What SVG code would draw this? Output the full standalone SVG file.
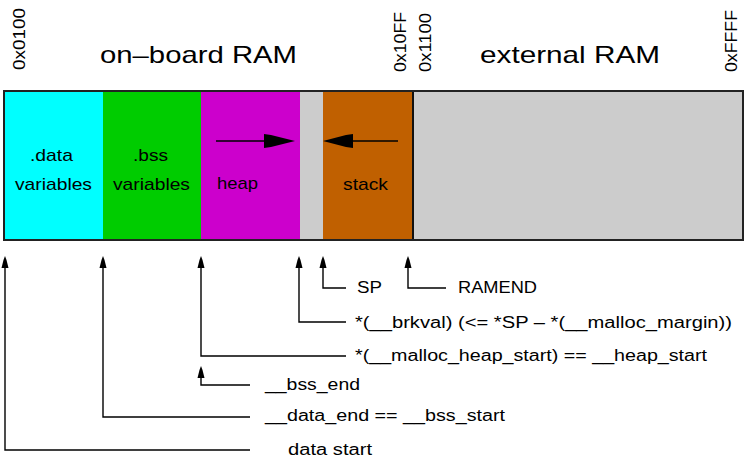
<svg xmlns="http://www.w3.org/2000/svg" width="756" height="458" viewBox="0 0 756 458">
<style>
text{font-family:"Liberation Sans",Arial,sans-serif;fill:#000}
.t{font-size:24px}
.a{font-size:16.5px}
.i{font-size:17px}
.l{font-size:16px}
.c{fill:none;stroke:#000;stroke-width:1.4}
.h{fill:#000}
</style>
<defs>
<path id="ah" d="M0,0 L-1.5,4 L-3.5,12 L3.5,12 L1.5,4 Z"/>
</defs>
<rect width="756" height="458" fill="#fff"/>
<g id="addresses">
<text class="a" transform="translate(25,70) rotate(-90)" textLength="62" lengthAdjust="spacingAndGlyphs">0x0100</text>
<text class="a" transform="translate(406,72) rotate(-90)" textLength="60" lengthAdjust="spacingAndGlyphs">0x10FF</text>
<text class="a" transform="translate(431,72) rotate(-90)" textLength="59" lengthAdjust="spacingAndGlyphs">0x1100</text>
<text class="a" transform="translate(737,72) rotate(-90)" textLength="62" lengthAdjust="spacingAndGlyphs">0xFFFF</text>
</g>
<g id="titles">
<text class="t" x="100" y="63" textLength="197" lengthAdjust="spacingAndGlyphs">on–board RAM</text>
<text class="t" x="480" y="63" textLength="180" lengthAdjust="spacingAndGlyphs">external RAM</text>
</g>
<g id="memory">
<rect x="4" y="91" width="739" height="149" fill="#ccc"/>
<rect id="data" x="4" y="91" width="99" height="149" fill="#00ffff"/>
<rect id="bss" x="103" y="91" width="98" height="149" fill="#00cc00"/>
<rect id="heap" x="201" y="91" width="99" height="149" fill="#cc00cc"/>
<rect id="stack" x="323" y="91" width="90" height="149" fill="#c06000"/>
<line x1="413" y1="91" x2="413" y2="240" stroke="#111" stroke-width="2"/>
<rect x="4" y="91" width="739" height="149" fill="none" stroke="#222" stroke-width="2"/>
<text class="i" x="30" y="161" textLength="43" lengthAdjust="spacingAndGlyphs">.data</text>
<text class="i" x="15" y="190" textLength="77" lengthAdjust="spacingAndGlyphs">variables</text>
<text class="i" x="133" y="161" textLength="35" lengthAdjust="spacingAndGlyphs">.bss</text>
<text class="i" x="113" y="190" textLength="77" lengthAdjust="spacingAndGlyphs">variables</text>
<text class="i" x="217" y="189" textLength="41" lengthAdjust="spacingAndGlyphs">heap</text>
<text class="i" x="343" y="190" textLength="45" lengthAdjust="spacingAndGlyphs">stack</text>
<line x1="216" y1="141" x2="290" y2="141" stroke="#000" stroke-width="1.4"/>
<polygon points="264,134 271,135 295,141 271,147 264,148" fill="#000"/>
<line x1="398" y1="141" x2="330" y2="141" stroke="#000" stroke-width="1.4"/>
<polygon points="353,134 346,135 323,141 346,147 353,148" fill="#000"/>
</g>
<g id="connectors">
<polyline class="c" points="5,264 5,450 250,450"/>
<polyline class="c" points="103,264 103,417 250,417"/>
<polyline class="c" points="201,264 201,356 346,356"/>
<polyline class="c" points="201,375 201,385 250,385"/>
<polyline class="c" points="299,264 299,322 346,322"/>
<polyline class="c" points="323,264 323,288 346,288"/>
<polyline class="c" points="408,264 408,288 446,288"/>
<use href="#ah" x="5" y="256" class="h"/>
<use href="#ah" x="103" y="256" class="h"/>
<use href="#ah" x="201" y="256" class="h"/>
<use href="#ah" x="201" y="366" class="h"/>
<use href="#ah" x="299" y="256" class="h"/>
<use href="#ah" x="323" y="256" class="h"/>
<use href="#ah" x="408" y="256" class="h"/>
</g>
<g id="labels">
<text class="l" x="357" y="293" textLength="25" lengthAdjust="spacingAndGlyphs">SP</text>
<text class="l" x="458" y="293" textLength="79" lengthAdjust="spacingAndGlyphs">RAMEND</text>
<text class="l" x="355" y="328" textLength="377" lengthAdjust="spacingAndGlyphs">*(__brkval) (&lt;= *SP – *(__malloc_margin))</text>
<text class="l" x="355" y="361" textLength="352" lengthAdjust="spacingAndGlyphs">*(__malloc_heap_start) == __heap_start</text>
<text class="l" x="265" y="390" textLength="95" lengthAdjust="spacingAndGlyphs">__bss_end</text>
<text class="l" x="265" y="421" textLength="240" lengthAdjust="spacingAndGlyphs">__data_end == __bss_start</text>
<text class="l" x="288" y="455" textLength="84" lengthAdjust="spacingAndGlyphs">data start</text>
</g>
</svg>
